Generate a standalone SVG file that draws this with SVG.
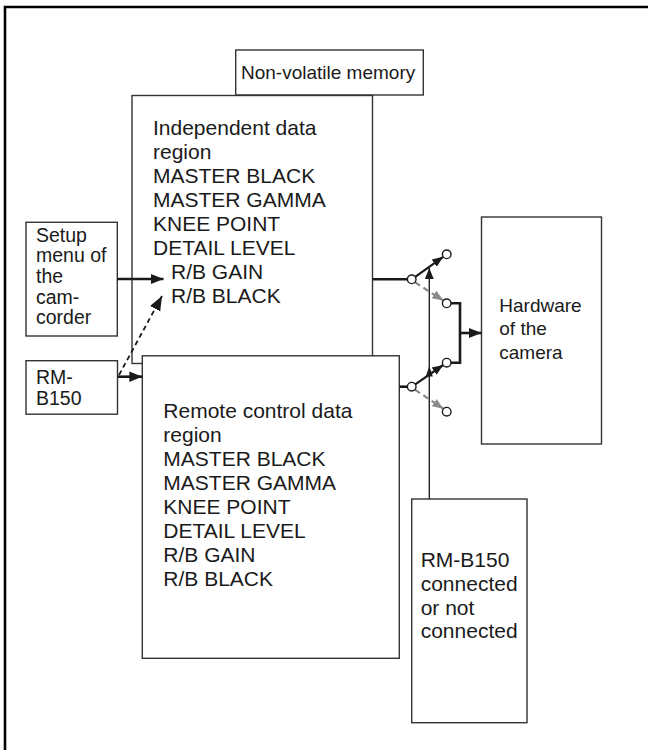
<svg xmlns="http://www.w3.org/2000/svg" width="648" height="750" viewBox="0 0 648 750">
<style>
.box{fill:#fff;stroke:#333;stroke-width:1.4}
.t{font-family:"Liberation Sans",Arial,Helvetica,sans-serif;font-size:21px;fill:#1a1a1a}
.s{font-size:19px}
.m{font-size:19.5px}
.thick{stroke:#1a1a1a;stroke-width:2.6;fill:none}
.thin{stroke:#222;stroke-width:1.4;fill:none}
.gray{stroke:#8a8a8a;stroke-width:2.2;stroke-dasharray:6 4;fill:none}
.circ{fill:#fff;stroke:#1a1a1a;stroke-width:1.4}
</style>
<defs>
<marker id="ah" viewBox="0 0 10 10" refX="10" refY="5" markerWidth="5" markerHeight="5" orient="auto" markerUnits="strokeWidth"><path d="M0,1 L10,5 L0,9 z" fill="#1a1a1a"/></marker>
<marker id="ahs" viewBox="0 0 10 10" refX="10" refY="5" markerWidth="8" markerHeight="8" orient="auto" markerUnits="strokeWidth"><path d="M0,1 L10,5 L0,9 z" fill="#1a1a1a"/></marker>
<marker id="ahg" viewBox="0 0 10 10" refX="10" refY="5" markerWidth="5" markerHeight="5" orient="auto" markerUnits="strokeWidth"><path d="M0,1 L10,5 L0,9 z" fill="#8a8a8a"/></marker>
</defs>
<rect width="648" height="750" fill="#fff"/>
<path d="M5,750 V7 H648" stroke="#000" stroke-width="2.6" fill="none"/>

<g id="nvmem">
<rect class="box" x="235.7" y="50" width="187.6" height="45"/>
<text class="t s" x="241" y="78.5">Non-volatile memory</text>
</g>
<g id="independent">
<rect class="box" x="132" y="95.5" width="240.5" height="268"/>
<text class="t" x="153" y="135">Independent data</text>
<text class="t" x="153" y="159">region</text>
<text class="t" x="153" y="183">MASTER BLACK</text>
<text class="t" x="153" y="207">MASTER GAMMA</text>
<text class="t" x="153" y="231">KNEE POINT</text>
<text class="t" x="153" y="255">DETAIL LEVEL</text>
<text class="t" x="171" y="279">R/B GAIN</text>
<text class="t" x="171" y="303">R/B BLACK</text>
</g>
<g id="remote">
<rect class="box" x="142.3" y="355.8" width="257" height="302.5"/>
<text class="t" x="163.3" y="417.5">Remote control data</text>
<text class="t" x="163.3" y="441.5">region</text>
<text class="t" x="163.3" y="465.5">MASTER BLACK</text>
<text class="t" x="163.3" y="489.5">MASTER GAMMA</text>
<text class="t" x="163.3" y="513.5">KNEE POINT</text>
<text class="t" x="163.3" y="537.5">DETAIL LEVEL</text>
<text class="t" x="163.3" y="561.5">R/B GAIN</text>
<text class="t" x="163.3" y="585.5">R/B BLACK</text>
</g>
<g id="setup">
<rect class="box" x="26" y="222.3" width="91.3" height="113.7"/>
<text class="t m" x="36" y="241.7">Setup</text>
<text class="t m" x="36" y="262.3">menu of</text>
<text class="t m" x="36" y="282.9">the</text>
<text class="t m" x="36" y="303.5">cam-</text>
<text class="t m" x="36" y="324.1">corder</text>
</g>
<g id="rmb150">
<rect class="box" x="26" y="360.7" width="91.5" height="53.5"/>
<text class="t m" x="36" y="384">RM-</text>
<text class="t m" x="36" y="405">B150</text>
</g>
<g id="hardware">
<rect class="box" x="481.5" y="217" width="120" height="227"/>
<text class="t s" x="499.3" y="311.7">Hardware</text>
<text class="t s" x="499.3" y="335.2">of the</text>
<text class="t s" x="499.3" y="358.7">camera</text>
</g>
<g id="rmconnected">
<rect class="box" x="411.7" y="499" width="115.3" height="223.7"/>
<text class="t" x="420.7" y="566.7">RM-B150</text>
<text class="t" x="420.7" y="590.7">connected</text>
<text class="t" x="420.7" y="614.5">or not</text>
<text class="t" x="420.7" y="638.3">connected</text>
</g>

<g id="connectors">
<line class="thick" x1="117.3" y1="279" x2="163.5" y2="279" marker-end="url(#ah)"/>
<line class="thick" x1="117.7" y1="376.7" x2="142.3" y2="376.7" marker-end="url(#ah)"/>
<line x1="119" y1="375" x2="162" y2="296" stroke="#1a1a1a" stroke-width="1.8" stroke-dasharray="5 3.5" marker-end="url(#ahs)"/>
<line class="thick" x1="372.5" y1="279.3" x2="407.5" y2="279.3"/>
<line class="thick" x1="399.3" y1="386.7" x2="407.5" y2="386.7"/>
<line class="thin" x1="429.3" y1="499" x2="429.3" y2="268" marker-end="url(#ahs)"/>
<path d="M425.8,376.5 L429.3,366 L432.8,376.5 z" fill="#1a1a1a"/>
<line x1="415.2" y1="276.8" x2="443.2" y2="256.8" stroke="#1a1a1a" stroke-width="2.2" marker-end="url(#ah)"/>
<line class="gray" x1="415" y1="282.3" x2="443.3" y2="300.5" marker-end="url(#ahg)"/>
<line x1="415.2" y1="384.3" x2="443.2" y2="365" stroke="#1a1a1a" stroke-width="2.2" marker-end="url(#ah)"/>
<line class="gray" x1="415" y1="389.7" x2="443.3" y2="408.7" marker-end="url(#ahg)"/>
<path class="thick" d="M451,303.3 H460 V362.7 H451"/>
<line class="thick" x1="460" y1="333" x2="481.5" y2="333" marker-end="url(#ah)"/>
<circle class="circ" cx="411.7" cy="279.3" r="4.3"/>
<circle class="circ" cx="446.7" cy="254.3" r="4.3"/>
<circle class="circ" cx="446.7" cy="303.3" r="4.3"/>
<circle class="circ" cx="411.7" cy="386.7" r="4.3"/>
<circle class="circ" cx="446.7" cy="362.7" r="4.3"/>
<circle class="circ" cx="446.7" cy="411.7" r="4.3"/>
</g>
</svg>
